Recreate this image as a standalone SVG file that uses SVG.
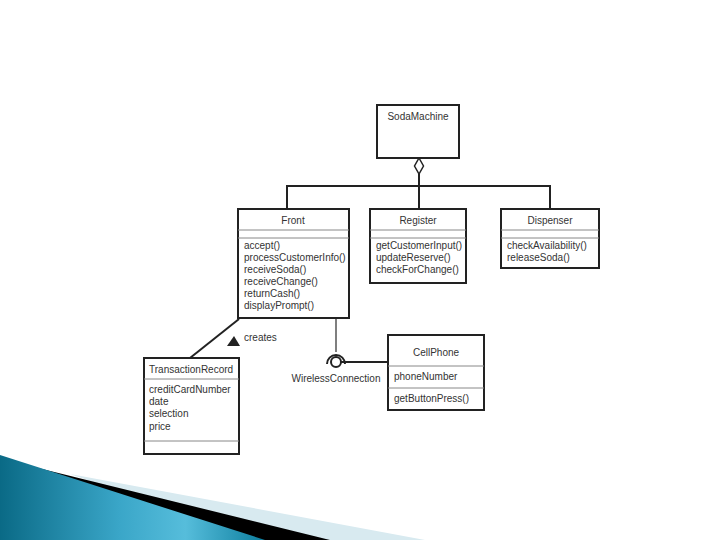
<svg xmlns="http://www.w3.org/2000/svg" width="720" height="540" viewBox="0 0 720 540">
<defs>
<linearGradient id="blueg" x1="0" y1="0" x2="1" y2="0">
<stop offset="0" stop-color="#0a6a86"/>
<stop offset="0.45" stop-color="#3aa6c8"/>
<stop offset="0.7" stop-color="#56bddb"/>
<stop offset="1" stop-color="#0d7e9e"/>
</linearGradient>
<style>
.box{fill:#fff;stroke:#222;stroke-width:2}
.div{stroke:#888;stroke-width:1}
.t{font-family:"Liberation Sans",Arial,sans-serif;font-size:10px;fill:#333}
.c{text-anchor:middle}
.ln{stroke:#222;stroke-width:2;fill:none}
.lg{stroke:#555;stroke-width:1.5;fill:none}
</style>
</defs>
<rect width="720" height="540" fill="#fff"/>
<g id="decoration">
<polygon points="70,474 425,540 260,540" fill="#d8eaf0"/>
<polygon points="30,466 330,540 262,540" fill="#000"/>
<polygon points="0,455 265,540 0,540" fill="url(#blueg)"/>
</g>
<g id="connectors">
<polygon points="419,158 423.5,166 419,174 414.5,166" fill="#fff" stroke="#222" stroke-width="1.5"/>
<line class="ln" x1="419" y1="174" x2="419" y2="209"/>
<polyline class="ln" points="287,209 287,186 550,186 550,209"/>
<line class="ln" x1="239" y1="319" x2="190" y2="358"/>
<polygon points="227,346 234,336 240,346" fill="#222"/>
<text class="t" x="244" y="341">creates</text>
<line class="lg" x1="336" y1="319" x2="336" y2="352"/>
<path d="M327,364 A9,9 0 1 1 345,364" class="ln"/>
<circle cx="336" cy="362" r="5" fill="#fff" stroke="#222" stroke-width="2"/>
<line class="ln" x1="341" y1="362" x2="388" y2="362"/>
<text class="t c" x="336" y="382">WirelessConnection</text>
</g>
<g id="SodaMachine">
<rect class="box" x="377" y="105" width="82" height="53"/>
<text class="t c" x="418" y="120">SodaMachine</text>
</g>
<g id="Front">
<rect class="box" x="238" y="209" width="111" height="109"/>
<line class="div" x1="238" y1="230" x2="349" y2="230"/>
<line class="div" x1="238" y1="238" x2="349" y2="238"/>
<text class="t c" x="293" y="224">Front</text>
<text class="t" x="244" y="249">accept()</text>
<text class="t" x="244" y="261">processCustomerInfo()</text>
<text class="t" x="244" y="273">receiveSoda()</text>
<text class="t" x="244" y="285">receiveChange()</text>
<text class="t" x="244" y="297">returnCash()</text>
<text class="t" x="244" y="309">displayPrompt()</text>
</g>
<g id="Register">
<rect class="box" x="370" y="209" width="96" height="74"/>
<line class="div" x1="370" y1="230" x2="466" y2="230"/>
<line class="div" x1="370" y1="238" x2="466" y2="238"/>
<text class="t c" x="418" y="224">Register</text>
<text class="t" x="376" y="249">getCustomerInput()</text>
<text class="t" x="376" y="261">updateReserve()</text>
<text class="t" x="376" y="273">checkForChange()</text>
</g>
<g id="Dispenser">
<rect class="box" x="501" y="209" width="98" height="59"/>
<line class="div" x1="501" y1="230" x2="599" y2="230"/>
<line class="div" x1="501" y1="238" x2="599" y2="238"/>
<text class="t c" x="550" y="224">Dispenser</text>
<text class="t" x="507" y="249">checkAvailability()</text>
<text class="t" x="507" y="261">releaseSoda()</text>
</g>
<g id="TransactionRecord">
<rect class="box" x="144" y="358" width="95" height="96"/>
<line class="div" x1="144" y1="379" x2="239" y2="379"/>
<line class="div" x1="144" y1="441" x2="239" y2="441"/>
<text class="t" x="149" y="373">TransactionRecord</text>
<text class="t" x="149" y="393">creditCardNumber</text>
<text class="t" x="149" y="405">date</text>
<text class="t" x="149" y="417">selection</text>
<text class="t" x="149" y="430">price</text>
</g>
<g id="CellPhone">
<rect class="box" x="388" y="335" width="96" height="75"/>
<line class="div" x1="388" y1="366" x2="484" y2="366"/>
<line class="div" x1="388" y1="388" x2="484" y2="388"/>
<text class="t c" x="436" y="356">CellPhone</text>
<text class="t" x="394" y="380">phoneNumber</text>
<text class="t" x="394" y="402">getButtonPress()</text>
</g>
</svg>
